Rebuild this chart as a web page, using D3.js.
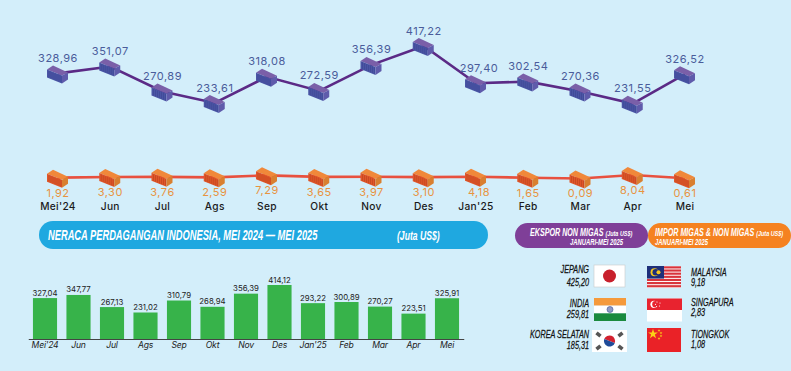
<!DOCTYPE html>
<html>
<head>
<meta charset="utf-8">
<script src="https://cdn.jsdelivr.net/npm/d3@7"></script>
<style>
    html, body { margin: 0; padding: 0; background: #d3eefa; overflow: hidden; }
    svg { display: block; }
    text { font-family: "Inter", "DejaVu Sans", sans-serif; }
    .narrow { font-family: "Liberation Sans", sans-serif; font-style: italic; }
</style>
</head>
<body>
<div id="chart"></div>
<script>
const months = ["Mei'24", "Jun", "Jul", "Ags", "Sep", "Okt", "Nov", "Des", "Jan'25", "Feb", "Mar", "Apr", "Mei"]
const ekspor = [328.96, 351.07, 270.89, 233.61, 318.08, 272.59, 356.39, 417.22, 297.40, 302.54, 270.36, 231.55, 326.52]
const impor = [1.92, 3.30, 3.76, 2.59, 7.29, 3.65, 3.97, 3.10, 4.18, 1.65, 0.09, 8.04, 0.61]
const neraca = [327.04, 347.77, 267.13, 231.02, 310.79, 268.94, 356.39, 414.12, 293.22, 300.89, 270.27, 223.51, 325.91]

const eksporNegara = ["JEPANG", "INDIA", "KOREA SELATAN"]
const eksporNilai = [425.20, 259.81, 185.31]
const imporNegara = ["MALAYSIA", "SINGAPURA", "TIONGKOK"]
const imporNilai = [9.18, 2.83, 1.08]

const fmt = v => v.toFixed(2).replace('.', ',')

const svg = d3.select('#chart').append('svg')
    .attr('width', 791)
    .attr('height', 371)

// top chart scales
const x = d3.scalePoint().domain(months).range([58, 685])
const yEkspor = d3.scaleLinear().domain([233.61, 417.22]).range([103, 46])
const yImpor = d3.scaleLinear().domain([0, 8.04]).range([178.5, 175])

// no condensed font here, so squeeze the glyphs to get the same look
const narrowText = (tx, ty, size, weight, fill, k, anchor, s) => {
    const t = svg.append('text').attr('class', 'narrow')
        .attr('transform', `translate(${tx},${ty}) scale(${k},1)`)
        .attr('font-size', size).attr('font-weight', weight)
        .attr('fill', fill).attr('text-anchor', anchor)
        .text(s)
    return { node: t, len: t.node().getComputedTextLength() * k }
}

// container icon, drawn around its own centre
const container = (g, top, front, side, rib) => {
    g.append('path').attr('d', 'M-11,-4L-5,-8L10,-1L4,2Z').attr('fill', top)
    g.append('path').attr('d', 'M-11,-4L4,2L4,10L-11,4Z').attr('fill', front)
    g.append('path').attr('d', 'M4,2L10,-1L10,6L4,10Z').attr('fill', side)
    d3.range(-9, 4, 2).forEach(d => {
        g.append('line')
            .attr('x1', d).attr('x2', d)
            .attr('y1', -4 + (d + 11) * 0.4 + 0.8)
            .attr('y2', 4 + (d + 11) * 0.4 - 0.8)
            .attr('stroke', rib).attr('stroke-width', 0.6)
    })
}

const drawSeries = (values, y, lineColor, icon, labelColor, labelDy) => {
    svg.append('path')
        .datum(values)
        .attr('fill', 'none')
        .attr('stroke', lineColor)
        .attr('stroke-width', 2.6)
        .attr('d', d3.line().x((d, i) => x(months[i])).y(d => y(d)))

    values.forEach((v, i) => {
        const g = svg.append('g').attr('transform', `translate(${x(months[i])},${y(v)})`)
        container(g, ...icon)
        svg.append('text')
            .attr('x', x(months[i]) + (months[i] == "Jan'25" ? 3 : 0))
            .attr('y', y(v) + labelDy)
            .attr('text-anchor', 'middle')
            .attr('font-size', 11)
            .attr('letter-spacing', 0.5)
            .attr('fill', labelColor)
            .text(fmt(v))
    })
}

drawSeries(ekspor, yEkspor, '#5b2a86', ['#7a5fa8', '#4a55a5', '#5f5bab', '#3a4490'], '#4a5c9a', -11.5)
drawSeries(impor, yImpor, '#e8503f', ['#f0883a', '#e0562a', '#d97f30', '#b8431c'], '#e8933f', 19)

svg.selectAll('.month')
    .data(months)
    .join('text')
    .attr('class', 'month')
    .attr('x', d => x(d))
    .attr('y', 209.5)
    .attr('text-anchor', 'middle')
    .attr('font-size', 10.2)
    .attr('font-weight', 500)
    .attr('letter-spacing', 0.3)
    .attr('fill', '#1a1a1a')
    .text(d => d)

// title pills
svg.append('rect').attr('x', 39).attr('y', 221).attr('width', 449).attr('height', 28).attr('rx', 14).attr('fill', '#1fa8e0')
narrowText(48, 240, 14, 700, '#fff', 0.665, 'start', 'NERACA PERDAGANGAN INDONESIA, MEI 2024 — MEI 2025')
narrowText(397, 240, 12, 700, '#fff', 0.72, 'start', '(Juta US$)')

svg.append('rect').attr('x', 515).attr('y', 223).attr('width', 133).attr('height', 25).attr('rx', 12.5).attr('fill', '#7f3f98')
svg.append('rect').attr('x', 648).attr('y', 223).attr('width', 143).attr('height', 25).attr('rx', 12.5).attr('fill', '#f58220')

const pillLine = (px, s) => {
    const first = narrowText(px, 236, 11, 700, '#fff', 0.65, 'start', s)
    narrowText(px + first.len + 2, 236, 8, 700, '#fff', 0.68, 'start', '(Juta US$)')
}
pillLine(530, 'EKSPOR NON MIGAS')
narrowText(570, 244.5, 8.5, 700, '#fff', 0.69, 'start', 'JANUARI-MEI 2025')
pillLine(655, 'IMPOR MIGAS & NON MIGAS')
narrowText(655, 244.5, 8.5, 700, '#fff', 0.69, 'start', 'JANUARI-MEI 2025')

// bars
const xBar = d3.scaleBand().domain(months).range([28.25, 463.75]).paddingInner(0.28).paddingOuter(0.14)
const yBar = d3.scaleLinear().domain([231.02, 414.12]).range([312.5, 285])
const barBase = 339

svg.selectAll('.bar')
    .data(neraca)
    .join('rect')
    .attr('class', 'bar')
    .attr('x', (d, i) => xBar(months[i]))
    .attr('y', d => yBar(d))
    .attr('width', xBar.bandwidth())
    .attr('height', d => barBase - yBar(d))
    .attr('fill', '#37b34a')

svg.selectAll('.barlabel')
    .data(neraca)
    .join('text')
    .attr('class', 'barlabel')
    .attr('x', (d, i) => xBar(months[i]) + xBar.bandwidth() / 2)
    .attr('y', d => yBar(d) - 2.5)
    .attr('text-anchor', 'middle')
    .attr('font-size', 7.8)
    .attr('fill', '#222')
    .text(fmt)

const axis = svg.append('g')
    .attr('transform', `translate(0,${barBase})`)
    .call(d3.axisBottom(xBar).tickSize(0).tickPadding(2.5))
axis.select('.domain').attr('stroke', '#444').attr('stroke-width', 1.2)
axis.selectAll('text')
    .attr('font-family', '"Inter", "DejaVu Sans", sans-serif')
    .attr('font-style', 'italic')
    .attr('font-size', 8.6)
    .attr('letter-spacing', -0.2)
    .attr('fill', '#222')

// flags, each one drawn in a local box
const flag = (fx, fy, w, h, draw) => {
    const g = svg.append('g').attr('transform', `translate(${fx},${fy})`)
    draw(g, w, h)
}
const band = (g, by, w, h, c) => g.append('rect').attr('y', by).attr('width', w).attr('height', h).attr('fill', c)

const jepang = (g, w, h) => {
    g.append('rect').attr('width', w).attr('height', h).attr('fill', '#fff').attr('stroke', '#c9c9c9').attr('stroke-width', 0.6)
    g.append('circle').attr('cx', w / 2).attr('cy', h / 2).attr('r', 6.5).attr('fill', '#c8202c')
}
const india = (g, w, h) => {
    band(g, 0, w, h / 3, '#f59a3c')
    band(g, h / 3, w, h / 3, '#fff')
    band(g, 2 * h / 3, w, h / 3, '#1a8a3e')
    g.append('circle').attr('cx', w / 2).attr('cy', h / 2).attr('r', 3).attr('fill', '#8f9bc4').attr('stroke', '#3d4f94').attr('stroke-width', 0.6)
}
const korea = (g, w, h) => {
    band(g, 0, w, h, '#fff')
    const cx = w / 2, cy = h / 2
    g.append('path').attr('d', `M${cx - 5.6},${cy}A5.6,5.6 0 0 1 ${cx + 5.6},${cy}Z`).attr('fill', '#d3202f').attr('transform', `rotate(20 ${cx} ${cy})`)
    g.append('path').attr('d', `M${cx - 5.6},${cy}A5.6,5.6 0 0 0 ${cx + 5.6},${cy}Z`).attr('fill', '#1f4b99').attr('transform', `rotate(20 ${cx} ${cy})`)
    ;[[-11, -6.5, 40], [11, -6.5, -40], [-11, 6.5, -40], [11, 6.5, 40]].forEach(c => {
        g.append('rect').attr('x', -2.6).attr('y', -1.8).attr('width', 5.2).attr('height', 3.6).attr('fill', '#555')
            .attr('transform', `translate(${cx + c[0]},${cy + c[1]}) rotate(${c[2]})`)
    })
}
const malaysia = (g, w, h) => {
    band(g, 0, w, h, '#fff')
    d3.range(0, 7).forEach(i => band(g, i * h / 7 + 0.3, w, h / 14 + 0.6, '#d8343c'))
    band(g, 0, w * 0.5, h * 4 / 7, '#1d2f7a')
    g.append('circle').attr('cx', 7.5).attr('cy', 6.3).attr('r', 4).attr('fill', '#f6c61e')
    g.append('circle').attr('cx', 8.8).attr('cy', 6.3).attr('r', 3.3).attr('fill', '#1d2f7a')
    g.append('circle').attr('cx', 11.5).attr('cy', 6.3).attr('r', 2).attr('fill', '#f6c61e')
}
const singapura = (g, w, h) => {
    band(g, 0, w, h, '#fff')
    band(g, 0, w, h / 2, '#e8232f')
    g.append('circle').attr('cx', 7).attr('cy', 5.8).attr('r', 3.6).attr('fill', '#fff')
    g.append('circle').attr('cx', 8.4).attr('cy', 5.8).attr('r', 3.2).attr('fill', '#e8232f')
    ;[[10, 3.5], [13, 4.5], [12.5, 7.5], [9.5, 8], [8.5, 5.8]].forEach(c => {
        g.append('circle').attr('cx', c[0]).attr('cy', c[1]).attr('r', 0.6).attr('fill', '#fff')
    })
}
const tiongkok = (g, w, h) => {
    band(g, 0, w, h, '#ea2227')
    g.append('path').attr('d', d3.symbol(d3.symbolStar, 30)).attr('transform', 'translate(6,6)').attr('fill', '#fbd116')
    ;[[12, 2.5], [14, 5], [14, 8], [12, 10.5]].forEach(c => {
        g.append('path').attr('d', d3.symbol(d3.symbolStar, 2.5)).attr('transform', `translate(${c[0]},${c[1]})`).attr('fill', '#fbd116')
    })
}

flag(594, 265, 31, 22, jepang)
flag(594, 298, 32, 23, india)
flag(592, 330, 35, 22, korea)
flag(647, 266, 34, 22, malaysia)
flag(647, 298.5, 35, 23, singapura)
flag(647, 328, 34, 24, tiongkok)

// partner labels
const partnerY = [[273, 286], [307, 318], [338, 349]]
const partnerYImpor = [[276, 286], [306, 316], [338, 348]]
const partnerLabel = (names, vals, px, anchor, ys) => {
    names.forEach((n, i) => {
        narrowText(px, ys[i][0], 11, 400, '#111', 0.66, anchor, n).node.attr('stroke', '#111').attr('stroke-width', 0.25)
        narrowText(px, ys[i][1], 11, 400, '#111', 0.66, anchor, fmt(vals[i])).node.attr('stroke', '#111').attr('stroke-width', 0.25)
    })
}
partnerLabel(eksporNegara, eksporNilai, 589, 'end', partnerY)
partnerLabel(imporNegara, imporNilai, 691, 'start', partnerYImpor)
</script>
</body>
</html>
